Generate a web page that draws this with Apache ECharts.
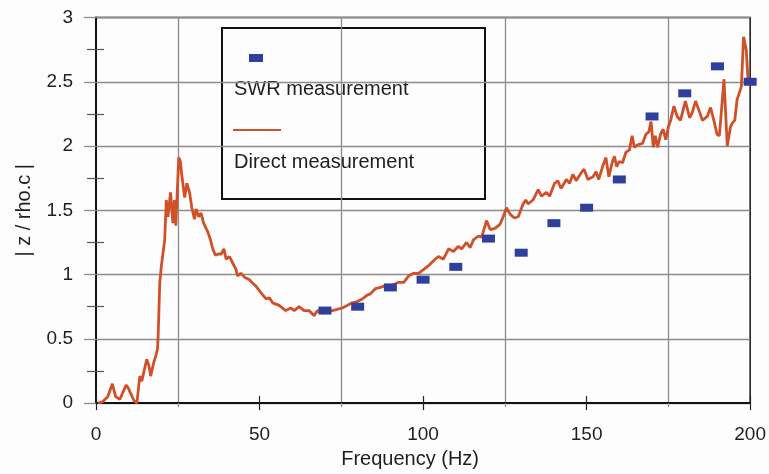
<!DOCTYPE html>
<html>
<head>
<meta charset="utf-8">
<script src="https://cdn.jsdelivr.net/npm/echarts@6/dist/echarts.min.js"></script>
<style>
  html, body { margin: 0; padding: 0; background: #fdfdfd; }
  #chart { width: 769px; height: 474px; }
</style>
</head>
<body>
<div id="chart"></div>
<script>
// SWR-derived impedance, one reading every 10 Hz
const swrFreq  = [70, 80, 90, 100, 110, 120, 130, 140, 150, 160, 170, 180, 190, 200];
const swrValue = [0.72, 0.75, 0.90, 0.96, 1.06, 1.28, 1.17, 1.40, 1.52, 1.74, 2.23, 2.41, 2.62, 2.50];

// Directly measured |z / rho.c| sweep
const directFreq = [
  0.6, 2, 3.6, 5.0, 6.0, 7.3, 9.2, 9.8, 11.6, 12.5, 13.4, 14.0, 15.5, 16.2, 16.7, 17.7, 18.3, 18.8, 19.0, 19.5,
  20.0, 20.5, 21.0, 21.5, 22.0, 22.8, 23.5, 24.0, 24.4, 25.3, 25.8, 26.2, 27.1, 27.8, 28.6, 29.3, 30.1, 30.6, 31.4, 32.1,
  32.9, 34.2, 35.0, 35.7, 36.5, 37.4, 38.3, 39.1, 39.8, 40.8, 41.8, 42.8, 43.3, 44.3, 45.4, 46.9, 48.0, 48.9, 50.4, 52.0,
  53.0, 54.0, 56.0, 58.0, 59.6, 60.6, 62.1, 63.6, 65.1, 66.7, 67.7, 69.2, 70.7, 72.2, 73.8, 75.3, 76.8, 78.3, 79.9, 81.4,
  82.9, 83.9, 85.4, 87.0, 88.0, 89.5, 91.0, 92.5, 94.1, 95.6, 97.1, 98.6, 100.2, 101.7, 103.7, 104.7, 106.2, 107.8, 109.3, 110.8,
  111.8, 113.3, 114.4, 115.4, 116.9, 117.9, 119.4, 120.5, 122.0, 123.5, 124.5, 125.5, 126.6, 127.9, 129.1, 130.6, 131.4, 132.1, 133.6, 135.2,
  136.2, 137.7, 138.7, 140.2, 141.2, 142.2, 143.8, 144.8, 145.8, 146.8, 148.3, 149.2, 150.4, 151.9, 152.9, 153.7, 154.9, 155.9, 156.8, 157.8,
  158.5, 159.2, 160.0, 161.0, 162.0, 163.1, 163.9, 164.6, 165.6, 167.1, 168.1, 169.0, 169.7, 170.4, 171.0, 171.7, 172.7, 173.4, 174.2, 175.0,
  175.7, 176.7, 177.7, 178.7, 180.2, 181.5, 182.3, 183.3, 184.6, 185.4, 186.9, 187.9, 188.9, 189.9, 190.6, 192.0, 193.0, 194.0, 194.6, 195.3,
  196.0, 196.5, 197.3, 198.0, 198.8, 199.4, 199.7
];
const directValue = [
  0.00, 0.01, 0.05, 0.15, 0.05, 0.03, 0.14, 0.12, 0.02, 0.00, 0.21, 0.17, 0.34, 0.29, 0.21, 0.32, 0.37, 0.42, 0.52, 0.94,
  1.07, 1.17, 1.27, 1.58, 1.45, 1.64, 1.40, 1.58, 1.38, 1.91, 1.88, 1.78, 1.60, 1.71, 1.64, 1.52, 1.43, 1.51, 1.45, 1.48,
  1.40, 1.33, 1.27, 1.20, 1.15, 1.16, 1.16, 1.20, 1.12, 1.14, 1.09, 1.04, 0.99, 1.01, 0.98, 0.96, 0.93, 0.91, 0.86, 0.81,
  0.82, 0.78, 0.76, 0.72, 0.74, 0.72, 0.75, 0.72, 0.72, 0.68, 0.72, 0.70, 0.71, 0.72, 0.73, 0.74, 0.76, 0.78, 0.79, 0.81,
  0.84, 0.85, 0.89, 0.90, 0.91, 0.91, 0.92, 0.94, 0.94, 0.99, 1.01, 1.01, 1.04, 1.07, 1.12, 1.14, 1.12, 1.20, 1.18, 1.22,
  1.20, 1.25, 1.21, 1.27, 1.30, 1.29, 1.42, 1.35, 1.36, 1.39, 1.45, 1.52, 1.47, 1.44, 1.45, 1.55, 1.58, 1.55, 1.58, 1.66,
  1.61, 1.64, 1.61, 1.71, 1.73, 1.67, 1.74, 1.71, 1.78, 1.73, 1.79, 1.82, 1.74, 1.76, 1.80, 1.74, 1.84, 1.91, 1.76, 1.87,
  1.92, 1.84, 1.88, 1.87, 1.95, 1.97, 2.08, 1.99, 2.01, 2.02, 2.09, 2.11, 2.19, 1.99, 2.08, 1.99, 2.10, 2.13, 2.05, 2.15,
  2.20, 2.31, 2.23, 2.20, 2.35, 2.22, 2.26, 2.35, 2.26, 2.20, 2.23, 2.30, 2.20, 2.09, 2.08, 2.52, 2.00, 2.15, 2.18, 2.20,
  2.36, 2.40, 2.46, 2.85, 2.75, 2.49, 2.48
];

const legendNames = ['SWR measurement', 'Direct measurement'];
const axisTitleX = 'Frequency (Hz)';
const axisTitleY = '| z / rho.c |';

const FONT = 'Liberation Sans, Arial, sans-serif';
const TEXT = '#1e1e1e';
const GRID = '#8c8c8c';
const BLUE = '#2f409c';
const RED = '#cf5029';

const zip = (xs, ys) => xs.map((x, i) => [x, ys[i]]);

const chart = echarts.init(document.getElementById('chart'), null, { renderer: 'canvas' });

chart.setOption({
  backgroundColor: '#fdfdfd',
  animation: false,
  grid: {
    left: 96, right: 16, top: 17.5, bottom: 70,
    show: true, borderColor: '#111', borderWidth: 1.5, backgroundColor: 'transparent'
  },
  xAxis: [
    {
      type: 'value', min: 0, max: 200, interval: 50, position: 'bottom',
      name: axisTitleX, nameLocation: 'middle', nameGap: 44,
      nameTextStyle: { fontFamily: FONT, fontSize: 20, color: TEXT, padding: [0, 26, 0, 0] },
      axisLine: { show: true, lineStyle: { color: '#111', width: 2 } },
      axisTick: { show: true, length: 7, lineStyle: { color: '#222', width: 1.2 } },
      axisLabel: { margin: 22, fontFamily: FONT, fontSize: 19, color: TEXT },
      splitLine: { show: false },
      minorTick: { show: true, splitNumber: 2, length: 4, lineStyle: { color: GRID, width: 1.2 } },
      minorSplitLine: { show: true, lineStyle: { color: GRID, width: 1.3 } }
    },
    {
      // same scale; carries the inner half of the major ticks so they straddle the axis
      type: 'value', min: 0, max: 200, interval: 50, position: 'bottom',
      axisLine: { show: false },
      axisTick: { show: true, inside: true, length: 7, lineStyle: { color: '#222', width: 1.2 } },
      axisLabel: { show: false },
      splitLine: { show: false }
    }
  ],
  yAxis: [
    {
      type: 'value', min: 0, max: 3, interval: 0.5, position: 'left',
      name: axisTitleY, nameLocation: 'middle', nameGap: 62,
      nameTextStyle: { fontFamily: FONT, fontSize: 20, color: TEXT },
      axisLine: { show: true, lineStyle: { color: '#111', width: 2 } },
      axisTick: { show: true, length: 12, lineStyle: { color: GRID, width: 1.3 } },
      axisLabel: { margin: 23, fontFamily: FONT, fontSize: 19, color: TEXT },
      splitLine: { show: true, lineStyle: { color: GRID, width: 1.3 } },
      minorTick: { show: true, splitNumber: 2, length: 9, lineStyle: { color: '#555', width: 1.2 } }
    },
    {
      // same scale; carries the inner half of the minor ticks
      type: 'value', min: 0, max: 3, interval: 0.5, position: 'left',
      axisLine: { show: false },
      axisTick: { show: true, inside: true, length: 1, lineStyle: { color: GRID, width: 1 } },
      axisLabel: { show: false },
      splitLine: { show: false },
      minorTick: { show: true, splitNumber: 2, length: 8, lineStyle: { color: '#555', width: 1.2 } }
    }
  ],
  series: [
    {
      name: legendNames[1],
      type: 'line',
      xAxisIndex: 0, yAxisIndex: 0,
      data: zip(directFreq, directValue),
      showSymbol: false,
      lineStyle: { color: RED, width: 2.8 },
      z: 3
    },
    {
      name: legendNames[0],
      type: 'scatter',
      xAxisIndex: 1, yAxisIndex: 1,
      data: zip(swrFreq, swrValue),
      symbol: 'rect',
      symbolSize: [13, 8],
      itemStyle: { color: BLUE, opacity: 1 },
      z: 4
    }
  ],
  graphic: [
    {
      type: 'group', left: 221, top: 27, z: 100,
      children: [
        { type: 'rect', shape: { x: 0, y: 0, width: 263, height: 171 },
          style: { fill: '#fdfdfd', stroke: '#111', lineWidth: 2 } },
        { type: 'rect', shape: { x: 27, y: 26, width: 14, height: 8 }, style: { fill: BLUE } },
        { type: 'text', x: 12, y: 61,
          style: { text: legendNames[0], font: '20px ' + FONT, fill: TEXT, verticalAlign: 'middle' } },
        { type: 'line', shape: { x1: 11, y1: 102, x2: 59, y2: 102 }, style: { stroke: RED, lineWidth: 2 } },
        { type: 'text', x: 12, y: 134,
          style: { text: legendNames[1], font: '20px ' + FONT, fill: TEXT, verticalAlign: 'middle' } }
      ]
    }
  ]
});
</script>
</body>
</html>
